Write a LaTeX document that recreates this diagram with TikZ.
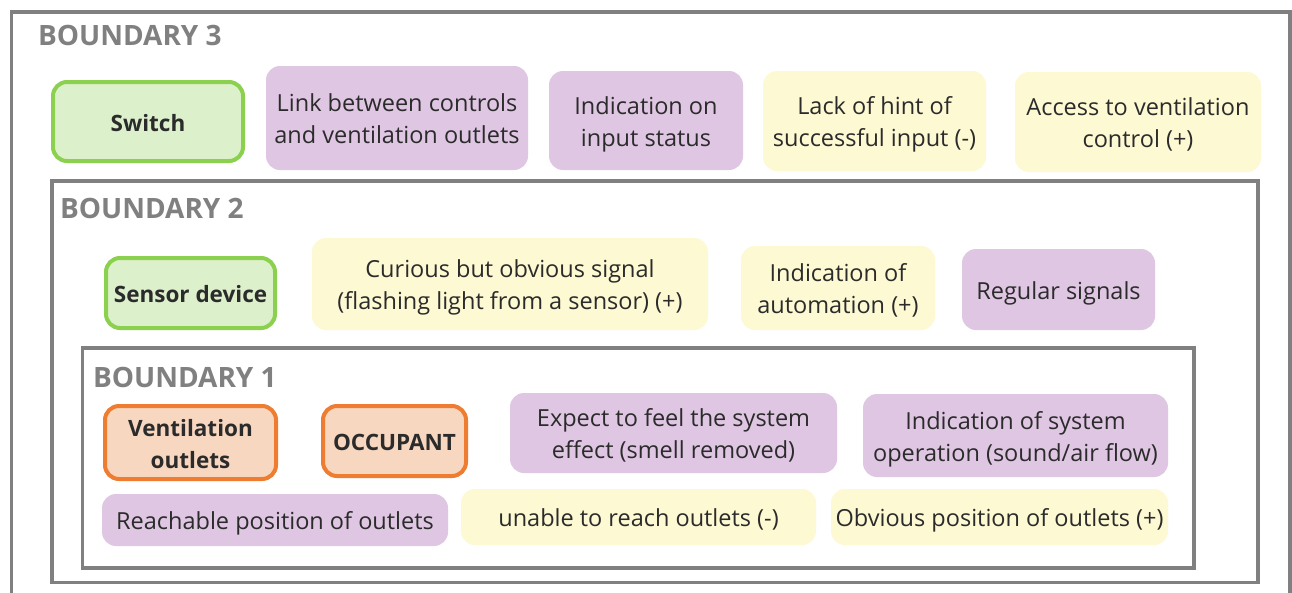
\documentclass[tikz,border=0pt]{standalone}
\usepackage{fontspec}
\setmainfont{Open Sans}
% card text: centred rows, set a little below the middle of the card
\newcommand\cardtext[1]{\vbox{\kern7pt\hbox{\begin{tabular}{@{}c@{}}#1\end{tabular}}}}
\begin{document}
\begin{tikzpicture}[x=1pt,y=-1pt,
  every node/.style={inner sep=0pt, outer sep=0pt, text=txt,
    font=\fontsize{23.5}{32}\selectfont},
  card/.style={rectangle, rounded corners=14pt, draw=none},
  purplecard/.style={card, fill=lilac},
  yellowcard/.style={card, fill=cream},
  greencard/.style={card, fill=leaf, draw=leafline, line width=4pt,
    font=\fontsize{22.5}{32}\selectfont\bfseries},
  orangecard/.style={card, fill=peach, draw=peachline, line width=4pt,
    font=\fontsize{22.5}{32}\selectfont\bfseries},
  frame/.style={draw=framegray, line width=3.5pt},
  tag/.style={anchor=base west, text=framegray,
    font=\fontsize{28}{32}\selectfont\bfseries}]
\definecolor{txt}{HTML}{2B2B2B}
\definecolor{lilac}{HTML}{DFC6E3}
\definecolor{cream}{HTML}{FDF9D3}
\definecolor{leaf}{HTML}{DDF0CC}
\definecolor{leafline}{HTML}{8BD14F}
\definecolor{peach}{HTML}{F8D7C0}
\definecolor{peachline}{HTML}{EE7D31}
\definecolor{framegray}{HTML}{808080}

\useasboundingbox (0,0) rectangle (1292,592);
\fill[white] (0,0) rectangle (1292,592);

% nested boundaries
\draw[frame] (11.5,600) -- (11.5,12) -- (1290,12) -- (1290,600);
\draw[frame] (52,181) rectangle (1258,582.5);
\draw[frame] (82.5,348) rectangle (1194,568);

\node[tag] (b3) at (38,45) {BOUNDARY 3};
\node[tag] (b2) at (60,218) {BOUNDARY 2};
\node[tag] (b1) at (93,387) {BOUNDARY 1};

% boundary 3 row
\node[greencard, minimum width=190pt, minimum height=79pt] (switch) at (148,121.5) {\cardtext{Switch}};
\node[purplecard, minimum width=262pt, minimum height=104pt] (link) at (397,118) {\cardtext{Link between controls\\and ventilation outlets}};
\node[purplecard, minimum width=194pt, minimum height=99pt] (inputstatus) at (646,120.5) {\cardtext{Indication on\\input status}};
\node[yellowcard, minimum width=223pt, minimum height=100pt] (lackhint) at (874.5,121) {\cardtext{Lack of hint of\\successful input (-)}};
\node[yellowcard, minimum width=246pt, minimum height=100pt] (access) at (1138,122) {\cardtext{Access to ventilation\\control (+)}};

% boundary 2 row
\node[greencard, minimum width=169pt, minimum height=70pt] (sensor) at (190.5,293) {\cardtext{Sensor device}};
\node[yellowcard, minimum width=396pt, minimum height=92pt] (curious) at (510,284) {\cardtext{Curious but obvious signal\\(flashing light from a sensor) (+)}};
\node[yellowcard, minimum width=194pt, minimum height=84pt] (automation) at (838,288) {\cardtext{Indication of\\automation (+)}};
\node[purplecard, minimum width=193pt, minimum height=81pt] (regular) at (1058.5,289.5) {\cardtext{Regular signals}};

% boundary 1 rows
\node[orangecard, minimum width=171pt, minimum height=73pt] (outlets) at (190.5,442.5) {\cardtext{Ventilation\\outlets}};
\node[orangecard, minimum width=143pt, minimum height=70pt] (occupant) at (394.5,441) {\cardtext{OCCUPANT}};
\node[purplecard, minimum width=327pt, minimum height=80pt] (expect) at (673.5,433) {\cardtext{Expect to feel the system\\effect (smell removed)}};
\node[purplecard, minimum width=305pt, minimum height=83pt] (operation) at (1015.5,435.5) {\cardtext{Indication of system\\operation (sound/air flow)}};
\node[purplecard, minimum width=346pt, minimum height=52pt] (reachable) at (275,520) {\cardtext{Reachable position of outlets}};
\node[yellowcard, minimum width=355pt, minimum height=56pt] (unable) at (638.5,517) {\cardtext{unable to reach outlets (-)}};
\node[yellowcard, minimum width=337pt, minimum height=56pt] (obvious) at (999.5,517) {\cardtext{Obvious position of outlets (+)}};
\end{tikzpicture}
\end{document}
